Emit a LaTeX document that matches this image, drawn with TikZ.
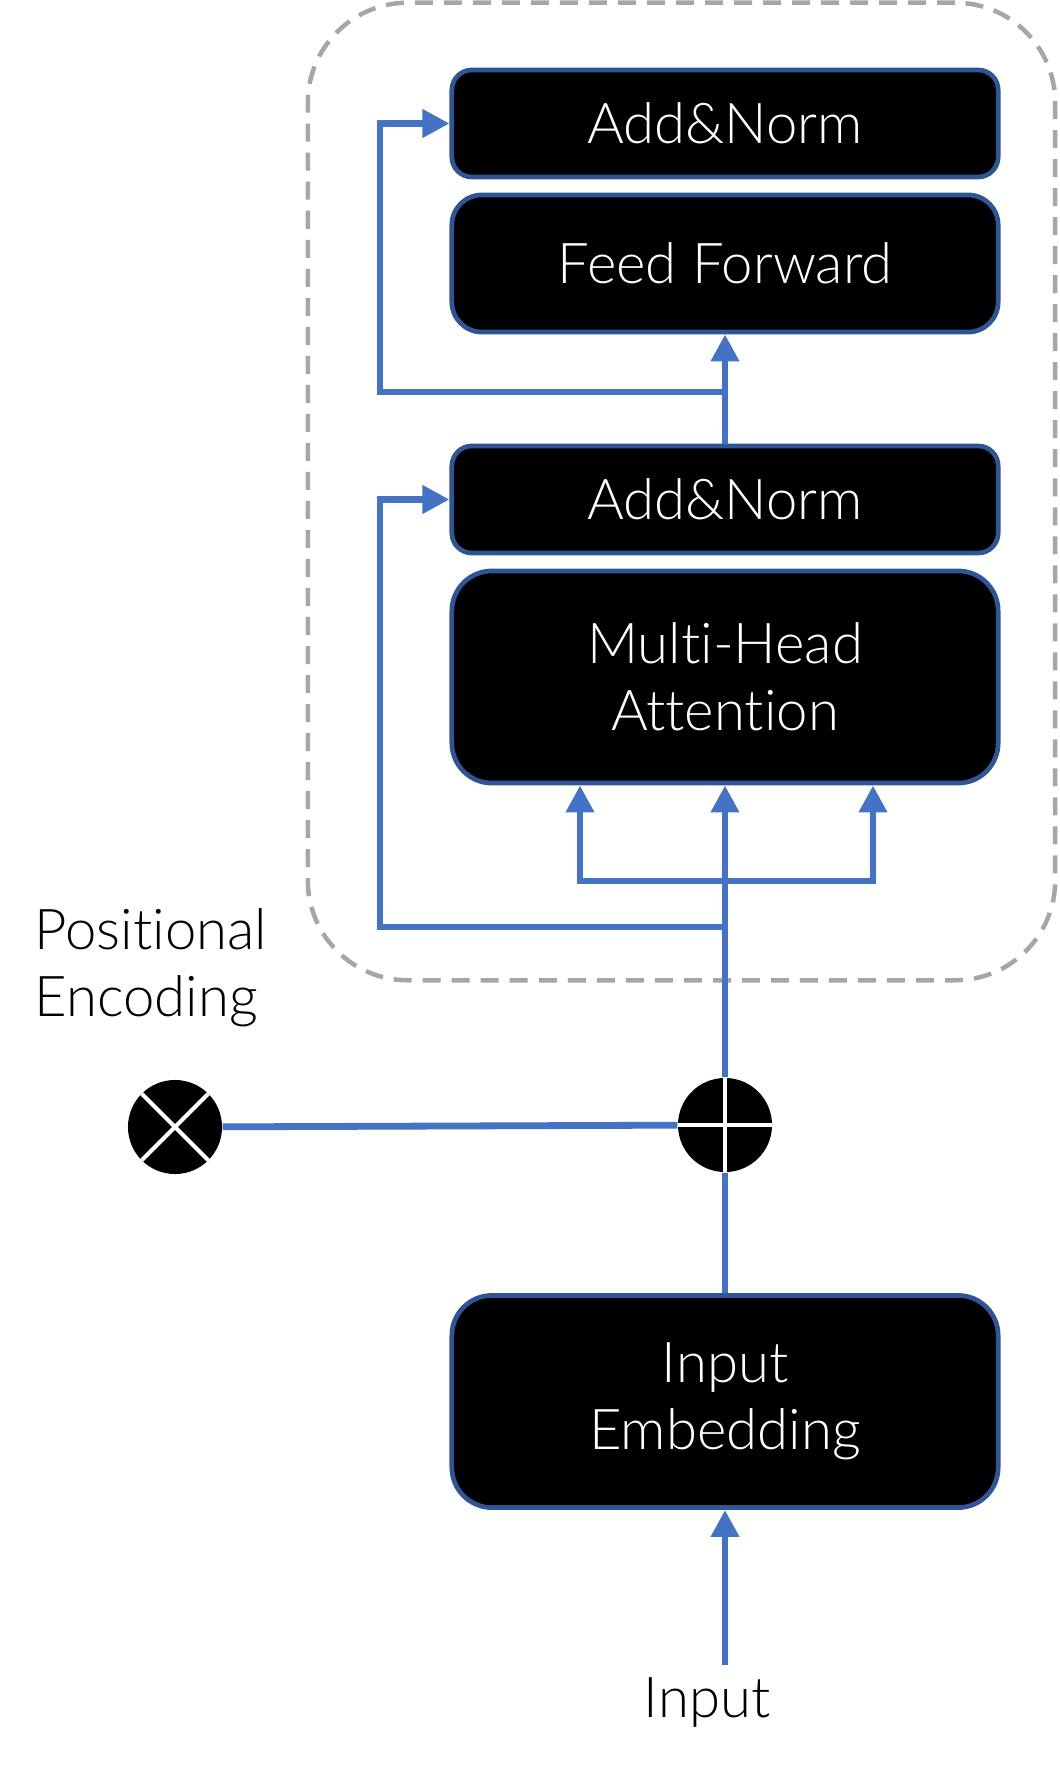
\documentclass[tikz,border=0pt]{standalone}
\usepackage{fontspec}
\setmainfont{Lato}[UprightFont=* Light, Ligatures=CommonOff]
\definecolor{flowblue}{RGB}{68, 114, 196}
\definecolor{edgeblue}{RGB}{47, 85, 151}
\definecolor{dashgray}{RGB}{166, 166, 166}
\usetikzlibrary{shapes, arrows.meta, positioning, calc}

\begin{document}
\begin{tikzpicture}[
  x=0.01cm, y=-0.01cm,
  font=\fontsize{16}{19}\selectfont,
  layerbox/.style={draw=edgeblue, fill=black, line width=0.47mm, text=white, minimum width=54.6mm, inner sep=0pt, align=center},
  encoderbox/.style={draw=dashgray, line width=0.45mm, dash pattern=on 1.8mm off 1.1mm, rounded corners=10mm, minimum width=74.7mm, minimum height=97.7mm, inner sep=0pt},
  flow/.style={draw=flowblue, line width=0.68mm},
  flowarrow/.style={flow, -{Triangle[width=2.7mm, length=2.7mm]}},
  flowfork/.style={flow, {Triangle[width=2.7mm, length=2.7mm]}-{Triangle[width=2.7mm, length=2.7mm]}},
  opnode/.style={circle, fill=black, minimum size=9.4mm, inner sep=0pt}
]
  \useasboundingbox (0,0) rectangle (1059,1767);

  \node[encoderbox] (encoder) at (681.5, 491.5) {};

  \node[layerbox, rounded corners=2mm, minimum height=10.7mm] (addnorm1) at (725, 123.5) {Add\&Norm};
  \node[layerbox, rounded corners=3mm, minimum height=13.7mm] (feedfwd) at (725, 263.5) {Feed Forward};
  \node[layerbox, rounded corners=2mm, minimum height=10.7mm] (addnorm2) at (725, 499.5) {Add\&Norm};
  \node[layerbox, rounded corners=4mm, minimum height=21.2mm] (mha) at (725, 677) {Multi-Head\\Attention};
  \node[layerbox, rounded corners=4mm, minimum height=21.2mm] (embed) at (725, 1401.5) {Input\\Embedding};

  \node[opnode, path picture={
      \draw[white, line width=0.4mm] (path picture bounding box.north) -- (path picture bounding box.south);
      \draw[white, line width=0.4mm] (path picture bounding box.west) -- (path picture bounding box.east);
    }] (oplus) at (725, 1125) {};
  \node[opnode, path picture={
      \draw[white, line width=0.4mm] (path picture bounding box.north west) -- (path picture bounding box.south east);
      \draw[white, line width=0.4mm] (path picture bounding box.north east) -- (path picture bounding box.south west);
    }] (otimes) at (175, 1127) {};

  \node[anchor=west, align=left, inner sep=0pt] (posenc) at (34, 968) {Positional\\Encoding};
  \node (input) at (707, 1703) {Input};
  \coordinate (inputtop) at (725, 1665);

  % Junctions on the main path
  \coordinate (split) at (725, 881);
  \coordinate (qsplit) at (580, 881);
  \coordinate (vsplit) at (873, 881);
  \coordinate (res2) at (725, 927);
  \coordinate (res2left) at (380, 927);
  \coordinate (res1) at (725, 392);
  \coordinate (res1left) at (380, 392);

  \draw[flowarrow] (inputtop) -- (embed);
  \draw[flow] (embed) -- (oplus);
  \draw[flow] (otimes) -- (oplus);
  \draw[flow] (oplus) -- (split);
  \draw[flowarrow] (split) -- (mha);
  \draw[flowfork] (qsplit |- mha.south) -- (qsplit) -- (vsplit) -- (vsplit |- mha.south);
  \draw[flowarrow] (res2) -- (res2left) |- (addnorm2.west);
  \draw[flowarrow] (addnorm2) -- (feedfwd);
  \draw[flowarrow] (res1) -- (res1left) |- (addnorm1.west);
\end{tikzpicture}
\end{document}
